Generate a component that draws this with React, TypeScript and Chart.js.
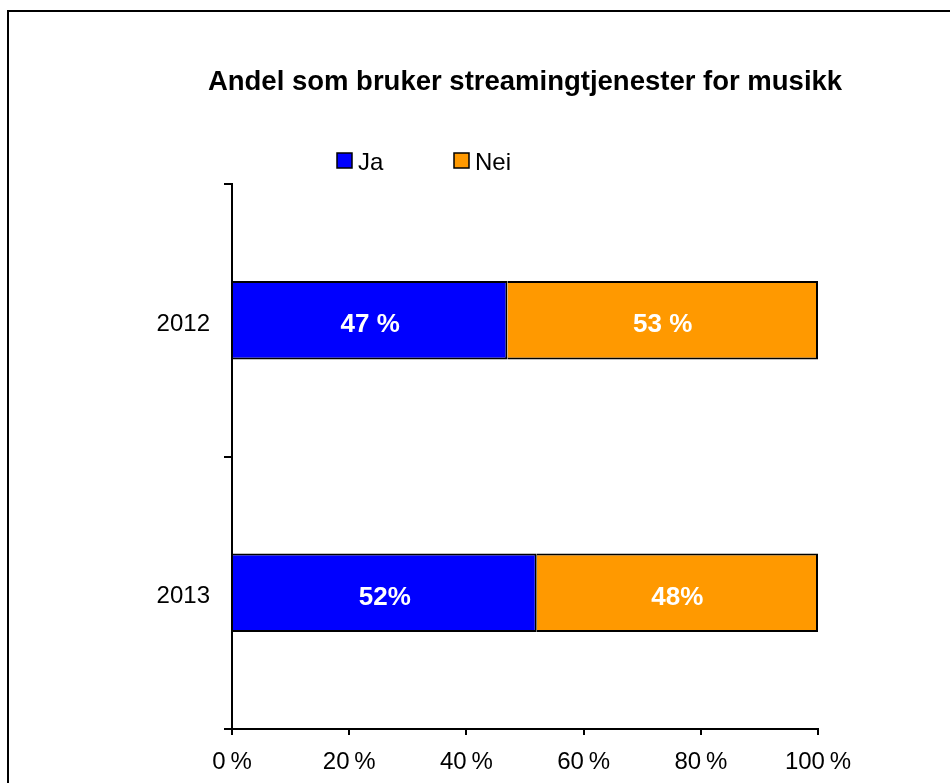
import React, { useEffect, useRef } from "react";
import { Chart, registerables } from "chart.js";

Chart.register(...registerables);

const TITLE = "Andel som bruker streamingtjenester for musikk";
const categories = ["2012", "2013"];
const jaValues = [47, 52];
const neiValues = [53, 48];
const jaLabels = ["47 %", "52%"];
const neiLabels = ["53 %", "48%"];
const xTicks = [0, 20, 40, 60, 80, 100];
const seriesNames = ["Ja", "Nei"];
const seriesColors = ["#0000FF", "#FF9900"];

const FONT = "'Liberation Sans', Arial, sans-serif";

const decorPlugin = {
  id: "decor",
  beforeDraw(chart: any) {
    const ctx = chart.ctx;
    ctx.save();
    ctx.fillStyle = "#ffffff";
    ctx.fillRect(0, 0, chart.width, chart.height);
    ctx.strokeStyle = "#000000";
    ctx.lineWidth = 2;
    ctx.beginPath();
    ctx.moveTo(8, chart.height + 5);
    ctx.lineTo(8, 11);
    ctx.lineTo(chart.width + 5, 11);
    ctx.stroke();
    ctx.restore();
  },
  afterDraw(chart: any) {
    const ctx = chart.ctx;
    ctx.save();
    // title
    ctx.fillStyle = "#000000";
    ctx.font = `bold 27.5px ${FONT}`;
    ctx.textAlign = "center";
    ctx.textBaseline = "middle";
    ctx.fillText(TITLE, 525, 82);
    // legend
    const boxX = [337, 454];
    ctx.font = `24px ${FONT}`;
    ctx.textAlign = "left";
    seriesNames.forEach((name, i) => {
      ctx.fillStyle = seriesColors[i];
      ctx.fillRect(boxX[i], 153, 15, 15);
      ctx.strokeStyle = "#000000";
      ctx.lineWidth = 1.5;
      ctx.strokeRect(boxX[i], 153, 15, 15);
      ctx.fillStyle = "#000000";
      ctx.fillText(name, boxX[i] + 21, 163);
    });
    ctx.restore();
  },
  afterDatasetsDraw(chart: any) {
    const ctx = chart.ctx;
    const allLabels = [jaLabels, neiLabels];
    ctx.save();
    ctx.fillStyle = "#ffffff";
    ctx.font = `bold 26px ${FONT}`;
    ctx.textAlign = "center";
    ctx.textBaseline = "middle";
    chart.data.datasets.forEach((ds: any, di: number) => {
      const meta = chart.getDatasetMeta(di);
      meta.data.forEach((el: any, i: number) => {
        const cx = (el.x + el.base) / 2;
        ctx.fillText(allLabels[di][i], cx, el.y + 5);
      });
    });
    ctx.restore();
  },
};

export default function App() {
  const ref = useRef<HTMLCanvasElement | null>(null);
  useEffect(() => {
    if (!ref.current) return;
    const chart = new Chart(ref.current, {
      type: "bar",
      data: {
        labels: categories,
        datasets: [
          {
            label: seriesNames[0],
            data: jaValues,
            backgroundColor: seriesColors[0],
            borderColor: "#000000",
            borderWidth: 2,
            categoryPercentage: 0.8,
            barPercentage: 0.36,
          },
          {
            label: seriesNames[1],
            data: neiValues,
            backgroundColor: seriesColors[1],
            borderColor: "#000000",
            borderWidth: 2,
            categoryPercentage: 0.8,
            barPercentage: 0.36,
          },
        ],
      },
      options: {
        animation: false,
        responsive: false,
        indexAxis: "y",
        layout: { padding: { left: 0, right: 132, top: 184, bottom: 0 } },
        plugins: {
          legend: { display: false },
          title: { display: false },
          tooltip: { enabled: false },
        },
        scales: {
          x: {
            stacked: true,
            min: 0,
            max: 100,
            afterBuildTicks: (scale: any) => {
              scale.ticks = xTicks.map((v) => ({ value: v }));
            },
            afterFit: (scale: any) => {
              scale.height = 54;
            },
            ticks: {
              callback: (v: any) => `${v}\u2009%`,
              color: "#000000",
              font: { family: FONT, size: 24 },
              padding: 13,
              maxRotation: 0,
            },
            grid: {
              drawOnChartArea: false,
              drawTicks: true,
              tickLength: 6,
              color: "#000000",
              lineWidth: 2,
            },
            border: { display: true, color: "#000000", width: 2 },
          },
          y: {
            stacked: true,
            afterFit: (scale: any) => {
              scale.width = 232;
            },
            ticks: {
              color: "#000000",
              font: { family: FONT, size: 24 },
              padding: 14,
              labelOffset: 4,
            },
            grid: {
              offset: true,
              drawOnChartArea: false,
              drawTicks: true,
              tickLength: 8,
              color: "#000000",
              lineWidth: 2,
            },
            border: { display: true, color: "#000000", width: 2 },
          },
        },
      },
      plugins: [decorPlugin],
    } as any);
    return () => chart.destroy();
  }, []);
  return (
    <div style={{ position: "absolute", left: 0, top: 0, width: 950, height: 783 }}>
      <canvas ref={ref} width={950} height={783} style={{ width: 950, height: 783, display: "block" }} />
    </div>
  );
}
